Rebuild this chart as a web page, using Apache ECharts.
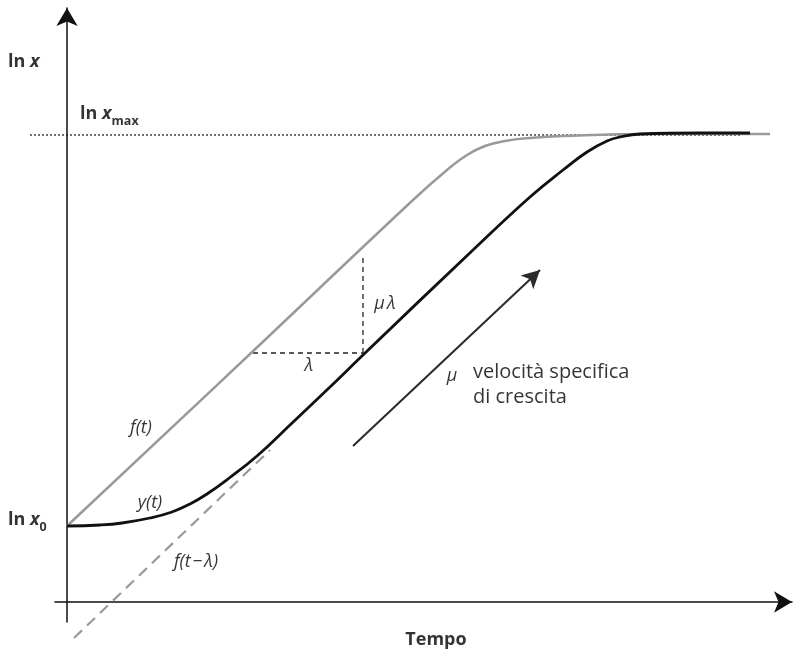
<!DOCTYPE html>
<html>
<head>
<meta charset="utf-8">
<script src="https://cdn.jsdelivr.net/npm/echarts@6/dist/echarts.min.js"></script>
<style>
  html, body { margin: 0; padding: 0; background: #fff; }
  #chart { width: 794px; height: 653px; }
</style>
</head>
<body>
<div id="chart"></div>
<script>
// Growth curve sketch: time on x, ln x on y (arbitrary units)
const lnX0 = 7.6;
const lnXmax = 46.7;

// f(t): exponential phase without lag (gray)
const fT = [[0, 7.6], [18.3, 24.8], [34.6, 40.2], [38.0, 43.2], [40.0, 44.7], [41.8, 45.6],
            [43.8, 46.1], [46.3, 46.4], [49.6, 46.6], [58.3, 46.8], [70.3, 46.8]];
// y(t): observed growth curve with lag phase (black)
const yT = [[0, 7.6], [3.3, 7.7], [5.5, 7.9], [8.3, 8.4], [10.5, 9.0], [12.3, 9.8], [14.0, 10.8], [16.1, 12.3],
            [19.0, 14.6], [22.3, 17.7], [26.3, 21.5], [29.6, 24.7], [40.6, 35.2], [46.3, 40.5],
            [49.6, 43.2], [52.0, 45.0], [54.0, 46.1], [55.3, 46.5], [57.3, 46.8], [63.3, 46.9], [68.3, 46.9]];
// f(t - lambda): shifted exponential line (gray dashed)
const fShift = [[0.7, -3.6], [20.3, 15.2]];
// lambda / mu*lambda construction
const lambdaRun = [[18.6, 24.9], [29.6, 24.9]];
const lambdaRise = [[29.6, 24.9], [29.6, 34.7]];
// specific growth rate arrow
const muArrow = [[28.6, 15.6], [47.3, 33.2]];
// ln x_max level
const maxLevel = [[-3.7, lnXmax], [67.3, lnXmax]];

// text annotations: [t, ln x, text key]
const notes = [
  [-5.9, 54.0, 'lnx'],
  [1.3, 48.8, 'lnxmax'],
  [-5.9, 8.2, 'lnx0'],
  [36.9, -3.8, 'tempo'],
  [7.4, 17.4, 'ft'],
  [8.3, 9.9, 'yt'],
  [12.9, 4.0, 'ftl'],
  [24.2, 23.6, 'lambda'],
  [31.8, 29.8, 'mulambda'],
  [38.5, 22.6, 'mu'],
  [40.6, 21.7, 'velocita']
];

const FONT = 'Open Sans';
const INK = '#000';
const richBold = {
  b: { fontFamily: FONT, fontWeight: 'bold', fontSize: 18, lineHeight: 28, color: INK },
  bi: { fontFamily: FONT, fontWeight: 'bold', fontStyle: 'italic', fontSize: 18, lineHeight: 28, color: INK },
  sub: { fontFamily: FONT, fontWeight: 'bold', fontSize: 12.5, lineHeight: 15, verticalAlign: 'bottom', color: INK }
};
const italic = { fontFamily: FONT, fontStyle: 'italic', fontSize: 18, color: INK };
const plain = { fontFamily: FONT, fontSize: 20, color: INK, lineHeight: 25 };

const labelFor = {
  lnx: { formatter: '{b|ln }{bi|x}', rich: richBold, position: 'right' },
  lnxmax: { formatter: '{b|ln }{bi|x}{sub|max}', rich: richBold, position: 'right' },
  lnx0: { formatter: '{b|ln }{bi|x}{sub|0}', rich: richBold, position: 'right' },
  tempo: { formatter: '{b|Tempo}', rich: richBold, position: 'inside' },
  ft: Object.assign({ formatter: 'f(t)', position: 'inside' }, italic),
  yt: Object.assign({ formatter: 'y(t)', position: 'inside' }, italic),
  ftl: Object.assign({ formatter: 'f(t\u200a\u2212\u200a\u03bb)', position: 'inside' }, italic),
  lambda: Object.assign({ formatter: '\u03bb', position: 'inside' }, italic),
  mulambda: Object.assign({ formatter: '\u03bc\u202f\u03bb', position: 'inside' }, italic),
  mu: Object.assign({ formatter: '\u03bc', position: 'inside' }, italic),
  velocita: Object.assign({ formatter: 'velocit\u00e0 specifica\ndi crescita', position: 'right', align: 'left' }, plain)
};

const chart = echarts.init(document.getElementById('chart'), null, { renderer: 'canvas' });

const axisCommon = {
  type: 'value',
  axisTick: { show: false },
  axisLabel: { show: false },
  splitLine: { show: false },
  axisLine: {
    show: true,
    onZero: true,
    symbol: ['none', 'arrow'],
    symbolSize: [16, 18],
    lineStyle: { color: '#111', width: 1.5 }
  }
};
const hiddenAxis = { type: 'value', show: false, gridIndex: 1 };

chart.setOption({
  animation: false,
  backgroundColor: '#fff',
  grid: [
    // main plotting frame
    { left: 55, right: 2, top: 8, bottom: 31, outerBoundsMode: 'none' },
    // same scale, widened to the left, used by the ln x_max guide
    { left: 30, right: 2, top: 8, bottom: 31, outerBoundsMode: 'none' }
  ],
  xAxis: [
    Object.assign({}, axisCommon, { min: -1.2, max: 72.5 }),
    Object.assign({}, hiddenAxis, { min: -3.7, max: 72.5 })
  ],
  yAxis: [
    Object.assign({}, axisCommon, { min: -2.0, max: 59.4 }),
    Object.assign({}, hiddenAxis, { min: -2.0, max: 59.4 })
  ],
  series: [
    {
      type: 'line', data: maxLevel, symbol: 'none', silent: true, xAxisIndex: 1, yAxisIndex: 1,
      lineStyle: { color: '#222', width: 1.3, type: [2, 2] }, z: 1
    },
    {
      type: 'line', data: fShift, symbol: 'none', clip: false, silent: true,
      lineStyle: { color: '#9a9a9a', width: 2.2, type: [11, 7] }, z: 2
    },
    {
      type: 'line', data: fT, symbol: 'none', smooth: 0.45, silent: true,
      lineStyle: { color: '#9a9a9a', width: 2.5 }, z: 3
    },
    {
      type: 'line', data: yT, symbol: 'none', smooth: 0.45, silent: true,
      lineStyle: { color: '#111', width: 2.8 }, z: 4
    },
    {
      type: 'line', data: lambdaRun, symbol: 'none', silent: true,
      lineStyle: { color: '#222', width: 1.3, type: [5, 4] }, z: 2
    },
    {
      type: 'line', data: lambdaRise, symbol: 'none', silent: true,
      lineStyle: { color: '#222', width: 1.3, type: [5, 4] }, z: 2,
      markLine: {
        silent: true,
        symbol: ['none', 'arrow'],
        symbolSize: [14, 18],
        label: { show: false },
        lineStyle: { color: '#2a2a2a', width: 2, type: 'solid' },
        data: [[{ coord: muArrow[0] }, { coord: muArrow[1] }]]
      }
    },
    {
      type: 'scatter', symbolSize: 0, clip: false, silent: true, z: 10,
      data: notes.map(function (n) {
        const l = Object.assign({ show: true, distance: 0 }, labelFor[n[2]]);
        return { value: [n[0], n[1]], label: l };
      })
    }
  ]
});
</script>
</body>
</html>
